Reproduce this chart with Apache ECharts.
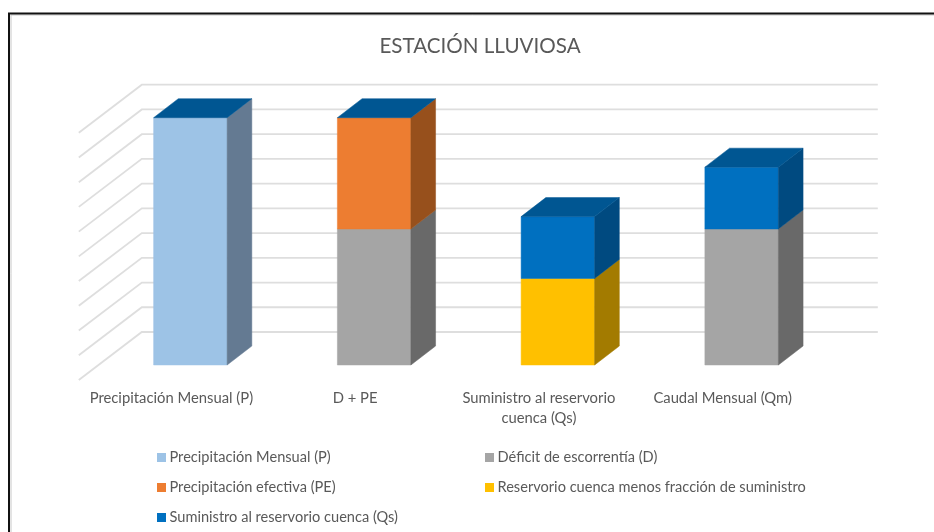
<!DOCTYPE html>
<html><head><meta charset="utf-8">
<style>html,body{margin:0;padding:0;background:#fff}#c{width:934px;height:532px}</style>
<script src="https://cdn.jsdelivr.net/npm/echarts@6/dist/echarts.min.js"></script>
</head><body><div id="c"></div>
<script>
const categories = ['Precipitación Mensual (P)', 'D + PE', 'Suministro al reservorio\ncuenca (Qs)', 'Caudal Mensual (Qm)'];
const yTicks = [0,1,2,3,4,5,6,7,8,9,10];
const precipitacionMensual = [10, 0, 0, 0];
const deficitEscorrentia = [0, 5.5, 0, 5.5];
const precipitacionEfectiva = [0, 4.5, 0, 0];
const reservorioMenosFraccion = [0, 0, 3.5, 0];
const suministroReservorio = [0, 0, 2.5, 2.5];

const stacks = [precipitacionMensual, deficitEscorrentia, precipitacionEfectiva, reservorioMenosFraccion, suministroReservorio];
const names = ['Precipitación Mensual (P)', 'Déficit de escorrentía (D)', 'Precipitación efectiva (PE)', 'Reservorio cuenca menos fracción de suministro', 'Suministro al reservorio cuenca (Qs)'];
const fronts = ['#9DC3E6', '#A5A5A5', '#ED7D31', '#FFC000', '#0070C0'];
const sides = ['#647A92', '#696969', '#97501C', '#A37B00', '#004A80'];
const topColor = '#005692';

// oblique depth of a bar, and of the wall/floor relative to the bar plane
const BAR_DX = 24.7, BAR_DY = -19;
const BACK_DX = 43.3, BACK_DY = -33, FRONT_DX = -19.7, FRONT_DY = 15;
const WALL_EXTRA = 1;
const GRID_COLOR = '#DEDEDE';

function poly(points, fill) {
  return { type: 'polygon', shape: { points }, style: { fill, stroke: fill, lineWidth: 0.5 } };
}

function barSeries(si) {
  return {
    name: names[si],
    type: 'custom',
    coordinateSystem: 'cartesian2d',
    itemStyle: { color: fronts[si] },
    z: 3 + si,
    data: stacks[si].map((v, i) => [i, v]),
    encode: { x: 0, y: 1 },
    renderItem(params, api) {
      const i = api.value(0), v = api.value(1);
      let base = 0;
      for (let k = 0; k < si; k++) base += stacks[k][i];
      const w = api.size([1, 0])[0] * 0.4;
      const cx = api.coord([i, 0])[0];
      const x0 = cx - w / 2, x1 = cx + w / 2;
      const yb = api.coord([i, base])[1], yt = api.coord([i, base + v])[1];
      const children = [];
      if (v > 0) {
        children.push(poly([[x0, yb], [x1, yb], [x1, yt], [x0, yt]], fronts[si]));
        children.push(poly([[x1, yb], [x1 + BAR_DX, yb + BAR_DY], [x1 + BAR_DX, yt + BAR_DY], [x1, yt]], sides[si]));
      }
      if (si === stacks.length - 1) {
        children.push(poly([[x0, yt], [x1, yt], [x1 + BAR_DX, yt + BAR_DY], [x0 + BAR_DX, yt + BAR_DY]], topColor));
      }
      return { type: 'group', children };
    }
  };
}

const wallSeries = {
  name: 'grid',
  type: 'custom',
  coordinateSystem: 'cartesian2d',
  silent: true,
  z: 1,
  data: yTicks.map(v => [0, v]),
  encode: { x: 0, y: 1 },
  renderItem(params, api) {
    const y = api.coord([0, api.value(1)])[1];
    const cs = params.coordSys;
    const style = { fill: 'none', stroke: GRID_COLOR, lineWidth: 1.8 };
    return {
      type: 'polyline',
      shape: { points: [
        [cs.x + FRONT_DX, y + FRONT_DY],
        [cs.x + BACK_DX, y + BACK_DY],
        [cs.x + cs.width + BACK_DX + WALL_EXTRA, y + BACK_DY]
      ] },
      style
    };
  }
};

const FONT = 'Lato';
const legendBase = {
  orient: 'vertical',
  icon: 'rect',
  itemWidth: 9,
  itemHeight: 9,
  itemGap: 15,
  selectedMode: false,
  textStyle: { color: '#595959', fontFamily: FONT, fontSize: 14.6, lineHeight: 14, padding: [0, 0, 0, -1.5] }
};

const chart = echarts.init(document.getElementById('c'), null, { renderer: 'canvas' });
chart.setOption({
  animation: false,
  backgroundColor: '#fff',
  title: {
    text: 'ESTACIÓN LLUVIOSA',
    left: 475, top: 31, textAlign: 'center',
    textStyle: { color: '#595959', fontFamily: FONT, fontSize: 20.6, fontWeight: 'normal' }
  },
  grid: { left: 98.5, top: 117.7, width: 735, height: 247.3 },
  xAxis: {
    type: 'category',
    data: categories,
    axisLine: { show: false },
    axisTick: { show: false },
    axisLabel: {
      interval: 0, margin: 23, color: '#595959', fontFamily: FONT, fontSize: 14.8, lineHeight: 20,
      padding: [0, 38, 0, 0]
    }
  },
  yAxis: { type: 'value', min: 0, max: 10, interval: 1, show: false, splitLine: { show: false } },
  legend: [
    Object.assign({ left: 152, top: 445, data: [names[0], names[2], names[4]] }, legendBase),
    Object.assign({ left: 480, top: 445, data: [names[1], names[3]] }, legendBase)
  ],
  graphic: [
    { type: 'polyline', silent: true, z: 100, shape: { points: [[11, 532], [11, 15], [934, 15]] }, style: { fill: 'none', stroke: '#C8C8C8', lineWidth: 1 } },
    { type: 'polyline', silent: true, z: 101, shape: { points: [[9, 532], [9, 13.5], [934, 13.5]] }, style: { fill: 'none', stroke: '#111', lineWidth: 2 } }
  ],
  series: [wallSeries].concat(stacks.map((_, i) => barSeries(i)))
});
</script></body></html>
